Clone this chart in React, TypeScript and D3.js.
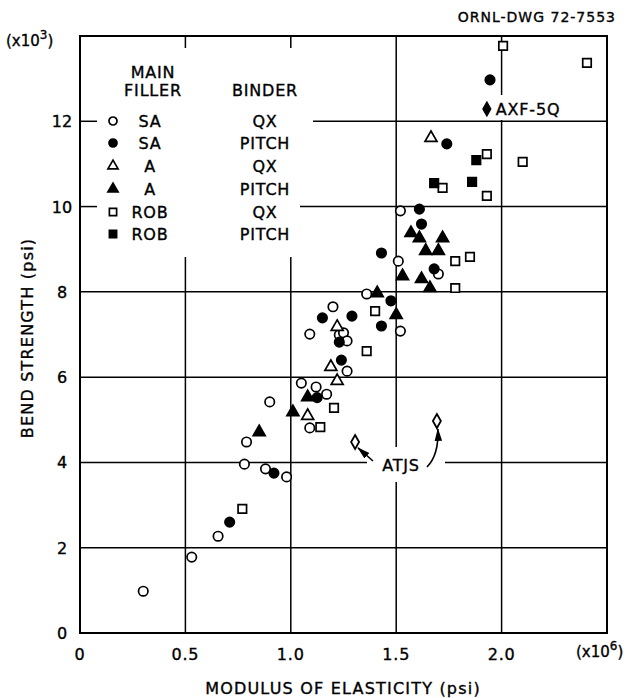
import React from "react";
import * as d3 from "d3";

const W = 630;
const H = 698;

// Axis ticks
const xTicks = [0, 0.5, 1.0, 1.5, 2.0];
const xTickLabels = ["0", "0.5", "1.0", "1.5", "2.0"];
const yTicks = [0, 2, 4, 6, 8, 10, 12];
const yTickLabels = ["0", "2", "4", "6", "8", "10", "12"];

// Modulus of elasticity (x10^6 psi), bend strength (x10^3 psi)
const saQx: [number, number][] = [
  [0.3, 0.98], [0.53, 1.78], [0.655, 2.27], [0.78, 3.96], [0.88, 3.85],
  [0.98, 3.66], [0.79, 4.48], [0.9, 5.42], [1.05, 5.86], [1.12, 5.77],
  [1.17, 5.6], [1.09, 4.81], [1.09, 7.01], [1.2, 7.65], [1.23, 6.99],
  [1.25, 7.04], [1.267, 6.85], [1.267, 6.14], [1.36, 7.95], [1.52, 7.08],
  [1.51, 8.72], [1.52, 9.9], [1.7, 8.42],
];
const saPitch: [number, number][] = [
  [0.71, 2.6], [0.92, 3.75], [1.125, 5.52], [1.24, 6.4], [1.23, 6.82],
  [1.15, 7.39], [1.29, 7.43], [1.43, 7.2], [1.475, 7.79], [1.43, 8.91],
  [1.68, 8.54], [1.61, 9.94], [1.62, 9.59], [1.74, 11.47], [1.945, 12.97],
];
const aQx: [number, number][] = [
  [1.08, 5.09], [1.22, 5.91], [1.19, 6.24], [1.22, 7.18], [1.665, 11.61],
];
const aPitch: [number, number][] = [
  [0.85, 4.71], [1.01, 5.18], [1.08, 5.53], [1.41, 7.97], [1.5, 7.46],
  [1.53, 8.37], [1.57, 9.38], [1.61, 9.26], [1.72, 9.26], [1.64, 8.96],
  [1.7, 8.96], [1.62, 8.3], [1.66, 8.09],
];
const robQx: [number, number][] = [
  [0.77, 2.91], [1.14, 4.83], [1.205, 5.28], [1.36, 6.61], [1.4, 7.55],
  [1.78, 8.72], [1.85, 8.82], [1.78, 8.09], [1.72, 10.44], [1.93, 10.25],
  [1.93, 11.23], [2.1, 11.05], [2.007, 13.77], [2.405, 13.37],
];
const robPitch: [number, number][] = [
  [1.68, 10.55], [1.86, 10.58], [1.88, 11.09],
];
const axf5q: [number, number] = [1.93, 12.29];
const atjs: [number, number][] = [[1.305, 4.48], [1.693, 4.97]];

const legendFiller = ["SA", "SA", "A", "A", "ROB", "ROB"];
const legendBinder = ["QX", "PITCH", "QX", "PITCH", "QX", "PITCH"];

const FONT = "'DejaVu Sans', sans-serif";

type Kind = "circle" | "triangle" | "square";
const series: { kind: Kind; filled: boolean; pts: [number, number][] }[] = [
  { kind: "circle", filled: false, pts: saQx },
  { kind: "circle", filled: true, pts: saPitch },
  { kind: "triangle", filled: false, pts: aQx },
  { kind: "triangle", filled: true, pts: aPitch },
  { kind: "square", filled: false, pts: robQx },
  { kind: "square", filled: true, pts: robPitch },
];

const symType = { circle: d3.symbolCircle, triangle: d3.symbolTriangle, square: d3.symbolSquare };
const symSize = { circle: 70, triangle: 62, square: 72 };

function Marker({ kind, filled, x, y, scale = 1 }: { kind: Kind; filled: boolean; x: number; y: number; scale?: number }) {
  const path = d3.symbol().type(symType[kind]).size(symSize[kind] * scale * scale)()!;
  return (
    <path
      d={path}
      transform={`translate(${x},${y})`}
      fill={filled ? "#000" : "#fff"}
      stroke="#000"
      strokeWidth={1.7}
    />
  );
}

// lettering with a slightly heavier stroke
const T = { fill: "#000", stroke: "#000", strokeWidth: 0.35 };

export default function App() {
  const x = d3.scaleLinear().domain([0, 2.5]).range([80, 607]);
  const y = d3.scaleLinear().domain([0, 14]).range([633, 36]);

  // gridline segments, broken around the legend and labels
  const vGrid: { v: number; segs: [number, number][] }[] = [
    { v: 0.5, segs: [[36, 48], [257, 633]] },
    { v: 1.0, segs: [[36, 48], [257, 633]] },
    { v: 1.5, segs: [[36, 447], [482, 633]] },
    { v: 2.0, segs: [[36, 95], [120, 633]] },
  ];
  const hGrid: { v: number; segs: [number, number][] }[] = [
    { v: 2, segs: [[80, 607]] },
    { v: 4, segs: [[80, 367], [445, 607]] },
    { v: 6, segs: [[80, 607]] },
    { v: 8, segs: [[80, 607]] },
    { v: 10, segs: [[80, 97], [300, 607]] },
    { v: 12, segs: [[80, 97], [313, 607]] },
  ];

  const diamond = (cx: number, cy: number) =>
    `M${cx},${cy - 7}L${cx + 4},${cy}L${cx},${cy + 7}L${cx - 4},${cy}Z`;

  const [a1, a2] = atjs;
  const ax1 = x(a1[0]), ay1 = y(a1[1]);
  const ax2 = x(a2[0]), ay2 = y(a2[1]);

  const legendRows = [121, 143, 166, 189, 212, 234];

  return (
    <svg
      width={W}
      height={H}
      viewBox={`0 0 ${W} ${H}`}
      style={{ position: "absolute", left: 0, top: 0, background: "#fff" }}
      fontFamily={FONT}
    >
      <defs>
        <marker id="arr" viewBox="0 0 12 10" refX="11" refY="5" markerWidth="8" markerHeight="7" orient="auto">
          <path d="M0,1.5L12,5L0,8.5Z" fill="#000" />
        </marker>
      </defs>
      <rect x={0} y={0} width={W} height={H} fill="#fff" />

      {/* grid */}
      {vGrid.map((g) =>
        g.segs.map((s, i) => (
          <line key={`v${g.v}-${i}`} x1={x(g.v)} x2={x(g.v)} y1={s[0]} y2={s[1]} stroke="#000" strokeWidth={1.5} />
        ))
      )}
      {hGrid.map((g) =>
        g.segs.map((s, i) => (
          <line key={`h${g.v}-${i}`} x1={s[0]} x2={s[1]} y1={y(g.v)} y2={y(g.v)} stroke="#000" strokeWidth={1.5} />
        ))
      )}

      {/* frame */}
      <rect x={x(0)} y={y(14)} width={x(2.5) - x(0)} height={y(0) - y(14)} fill="none" stroke="#000" strokeWidth={2} />

      {/* data */}
      {series.map((s, si) =>
        s.pts.map((p, i) => (
          <Marker key={`${si}-${i}`} kind={s.kind} filled={s.filled} x={x(p[0])} y={y(p[1])} />
        ))
      )}

      {/* AXF-5Q */}
      <path d={diamond(x(axf5q[0]), y(axf5q[1]))} fill="#000" stroke="#000" strokeWidth={1.2} />
      <text x={x(axf5q[0]) + 9} y={y(axf5q[1]) + 6} fontSize={16} letterSpacing={0.8} {...T}>AXF-5Q</text>

      {/* ATJS */}
      {atjs.map((p, i) => (
        <path key={`atjs${i}`} d={diamond(x(p[0]), y(p[1]))} fill="#fff" stroke="#000" strokeWidth={1.8} />
      ))}
      <text x={401} y={471} fontSize={16} textAnchor="middle" letterSpacing={0.8} {...T}>ATJS</text>
      <line x1={373} y1={461} x2={ax1 + 3} y2={ay1 + 6} stroke="#000" strokeWidth={1.6} markerEnd="url(#arr)" />
      <path
        d={`M${427},${467} Q${439},${455} ${ax2 + 1},${ay2 + 8}`}
        fill="none"
        stroke="#000"
        strokeWidth={1.6}
        markerEnd="url(#arr)"
      />

      {/* legend */}
      <text x={153} y={78} fontSize={16} textAnchor="middle" letterSpacing={0.8} {...T}>MAIN</text>
      <text x={153} y={96} fontSize={16} textAnchor="middle" letterSpacing={0.8} {...T}>FILLER</text>
      <text x={265} y={96} fontSize={16} textAnchor="middle" letterSpacing={0.8} {...T}>BINDER</text>
      {series.map((s, i) => (
        <g key={`leg${i}`}>
          <Marker kind={s.kind} filled={s.filled} x={113} y={legendRows[i]} scale={0.85} />
          <text x={150} y={legendRows[i] + 6} fontSize={16} textAnchor="middle" letterSpacing={0.8} {...T}>
            {legendFiller[i]}
          </text>
          <text x={265} y={legendRows[i] + 6} fontSize={16} textAnchor="middle" letterSpacing={0.8} {...T}>
            {legendBinder[i]}
          </text>
        </g>
      ))}

      {/* y ticks */}
      {yTicks.map((t, i) => (
        <text key={`yt${t}`} x={62} y={y(t) + 6} fontSize={16} textAnchor="middle" {...T}>
          {yTickLabels[i]}
        </text>
      ))}
      <text x={6} y={46} fontSize={15} {...T}>
        (x10<tspan dy={-7} fontSize={12}>3</tspan>
        <tspan dy={7}>)</tspan>
      </text>

      {/* x ticks */}
      {xTicks.map((t, i) => (
        <text key={`xt${t}`} x={x(t)} y={660} fontSize={16} textAnchor="middle" letterSpacing={0.8} {...T}>
          {xTickLabels[i]}
        </text>
      ))}
      <text x={576} y={657} fontSize={15} {...T}>
        (x10<tspan dy={-7} fontSize={12}>6</tspan>
        <tspan dy={7}>)</tspan>
      </text>

      {/* axis titles */}
      <text x={343} y={694} fontSize={16} textAnchor="middle" letterSpacing={1.2} {...T}>
        MODULUS OF ELASTICITY (psi)
      </text>
      <text
        transform={`translate(33,${338}) rotate(-90)`}
        fontSize={16}
        textAnchor="middle"
        letterSpacing={1.2}
        {...T}
      >
        BEND STRENGTH (psi)
      </text>

      {/* drawing number */}
      <text x={616} y={22} fontSize={14} textAnchor="end" letterSpacing={1} {...T}>
        ORNL-DWG 72-7553
      </text>
    </svg>
  );
}
